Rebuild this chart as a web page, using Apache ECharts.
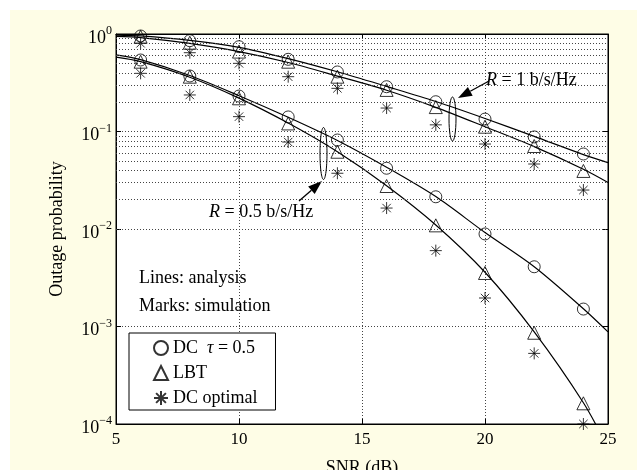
<!DOCTYPE html>
<html>
<head>
<meta charset="utf-8">
<script src="https://cdn.jsdelivr.net/npm/echarts@6/dist/echarts.min.js"></script>
<style>
  body { margin: 0; background: #fff; }
  #wrap { position: relative; width: 637px; height: 470px; background: #fff; }
  #panel { position: absolute; left: 10px; top: 10px; width: 627px; height: 460px; background: #fefde6; }
  #main { position: absolute; left: 0; top: 0; width: 637px; height: 470px; }
</style>
</head>
<body>
<div id="wrap"><div id="panel"></div><div id="main"></div></div>
<script>
// simulation points (marks)
var snr = [6, 8, 10, 12, 14, 16, 18, 20, 22, 24]
var dcTauR1 = [0.954, 0.854, 0.741, 0.55, 0.408, 0.288, 0.202, 0.134, 0.088, 0.0588]
var lbtR1 = [0.938, 0.814, 0.66, 0.52, 0.365, 0.267, 0.178, 0.112, 0.071, 0.0394]
var dcOptR1 = [0.803, 0.643, 0.5, 0.365, 0.277, 0.174, 0.117, 0.0744, 0.0464, 0.0251]
var dcTauR05 = [0.541, 0.371, 0.231, 0.141, 0.0818, 0.042, 0.0214, 0.0089, 0.0041, 0.00151]
var lbtR05 = [0.52, 0.365, 0.219, 0.121, 0.062, 0.0276, 0.0109, 0.00354, 0.000863, 0.000163]
var dcOptR05 = [0.395, 0.237, 0.142, 0.078, 0.0373, 0.0164, 0.006, 0.00196, 0.00053, 0.0001]

// analysis curves (lines)
var lineSnr = [5, 6, 8, 10, 12, 14, 16, 18, 20, 22, 24, 25]
var dcTauR1Line = [0.975, 0.955, 0.86, 0.73, 0.56, 0.41, 0.29, 0.203, 0.136, 0.089, 0.058, 0.048]
var lbtR1Line = [0.945, 0.92, 0.8, 0.66, 0.51, 0.37, 0.265, 0.177, 0.112, 0.07, 0.041, 0.03]
var dcTauR05Line = [0.61, 0.545, 0.375, 0.233, 0.14, 0.081, 0.043, 0.0215, 0.0092, 0.0041, 0.00152, 0.00088]
var lbtR05Line = [0.578, 0.52, 0.36, 0.22, 0.122, 0.062, 0.0278, 0.011, 0.0036, 0.00088, 0.000165, 0.000057]

// minor log grid values
var minorGrid = []
for (var e = -4; e < 0; e++) {
  for (var m = 2; m <= 9; m++) minorGrid.push(m * Math.pow(10, e))
}

var FONT = 'Liberation Serif'
var starPath = 'path://M0,-10L0,10M-10,0L10,0M-7,-7L7,7M-7,7L7,-7'

function pairs(xs, ys) {
  return xs.map(function(x, i) { return [x, ys[i]] })
}

function marks(name, symbol, size, ys) {
  return {
    name: name,
    type: 'scatter',
    symbol: symbol,
    symbolSize: size,
    itemStyle: { color: 'transparent', borderColor: '#000', borderWidth: 1 },
    z: 4,
    data: pairs(snr, ys)
  }
}

function curve(name, ys) {
  return {
    name: name,
    type: 'line',
    showSymbol: false,
    smooth: 0.3,
    clip: true,
    lineStyle: { color: '#000', width: 1.2 },
    z: 3,
    data: pairs(lineSnr, ys)
  }
}

function arrow(tail, tip) {
  var dx = tip[0] - tail[0], dy = tip[1] - tail[1]
  var len = Math.sqrt(dx * dx + dy * dy)
  var ux = dx / len, uy = dy / len
  var bx = tip[0] - 14 * ux, by = tip[1] - 14 * uy
  var px = -uy * 5, py = ux * 5
  return [{
    type: 'line',
    shape: { x1: tail[0], y1: tail[1], x2: bx, y2: by },
    style: { stroke: '#000', lineWidth: 1.3 }
  }, {
    type: 'polygon',
    shape: { points: [tip, [bx + px, by + py], [bx - px, by - py]] },
    style: { fill: '#000' }
  }]
}

var chart = echarts.init(document.getElementById('main'))

var curves = [
  curve('a1', dcTauR1Line),
  curve('a2', lbtR1Line),
  curve('a3', dcTauR05Line),
  curve('a4', lbtR05Line)
]
curves[0].markLine = {
  silent: true,
  symbol: 'none',
  label: { show: false },
  lineStyle: { color: '#444', type: [1, 2], width: 1 },
  data: minorGrid.map(function(v) { return { yAxis: v } })
}

var labelRich = {
  b: { fontFamily: FONT, fontSize: 18, color: '#000', padding: [8, 0, 0, 0] },
  s: { fontFamily: FONT, fontSize: 12, color: '#000', padding: [0, 0, 6, 0] }
}

chart.setOption({
  animation: false,
  backgroundColor: 'transparent',
  textStyle: { fontFamily: FONT },
  grid: {
    left: 116, top: 34, right: 29, bottom: 46,
    outerBoundsMode: 'none',
    containLabel: false,
    show: true, backgroundColor: '#fff', borderColor: '#000', borderWidth: 1
  },
  legend: {
    orient: 'vertical',
    left: 129, top: 333,
    padding: [6, 18, 3, 24],
    itemGap: 7,
    itemWidth: 14, itemHeight: 14,
    backgroundColor: '#fff',
    borderColor: '#000', borderWidth: 1, borderRadius: 0,
    selectedMode: false,
    formatter: function(name) {
      return name === 'DC τ = 0.5' ? 'DC  {i|τ} = 0.5' : name
    },
    textStyle: {
      fontFamily: FONT, fontSize: 18, color: '#000',
      rich: { i: { fontFamily: FONT, fontSize: 18, fontStyle: 'italic', color: '#000' } }
    },
    data: ['DC τ = 0.5', 'LBT', 'DC optimal']
  },
  xAxis: [{
    type: 'value', min: 5, max: 25, interval: 5,
    name: 'SNR (dB)', nameLocation: 'middle', nameGap: 35,
    nameTextStyle: { fontFamily: FONT, fontSize: 18, color: '#000', verticalAlign: 'top' },
    axisLine: { lineStyle: { color: '#000' } },
    axisTick: { inside: true, length: 5, lineStyle: { color: '#000' } },
    axisLabel: { margin: 7, fontFamily: FONT, fontSize: 17, color: '#000' },
    splitLine: { show: true, lineStyle: { color: '#444', type: [1, 2], width: 1 } }
  }, {
    type: 'value', min: 5, max: 25, interval: 5, position: 'top',
    axisLine: { show: true, lineStyle: { color: '#000' } },
    axisTick: { inside: true, length: 5, lineStyle: { color: '#000' } },
    axisLabel: { show: false },
    splitLine: { show: false }
  }],
  yAxis: [{
    type: 'log', logBase: 10, min: 0.0001, max: 1, splitNumber: 4,
    name: 'Outage probability', nameLocation: 'middle', nameGap: 50,
    nameTextStyle: { fontFamily: FONT, fontSize: 18, color: '#000' },
    axisLine: { show: true, lineStyle: { color: '#000' } },
    axisTick: { inside: true, length: 5, lineStyle: { color: '#000' } },
    axisLabel: {
      margin: 4,
      formatter: function(v) {
        var p = Math.round(Math.log10(v))
        return '{b|10}{s|' + (p < 0 ? '\u2212' + (-p) : p) + '}'
      },
      rich: labelRich
    },
    splitLine: { show: true, lineStyle: { color: '#444', type: [1, 2], width: 1 } }
  }, {
    type: 'log', logBase: 10, min: 0.0001, max: 1, splitNumber: 4, position: 'right',
    axisLine: { show: true, lineStyle: { color: '#000' } },
    axisTick: { inside: true, length: 5, lineStyle: { color: '#000' } },
    axisLabel: { show: false },
    splitLine: { show: false }
  }],
  series: curves.concat([
    marks('DC τ = 0.5', 'circle', 12, dcTauR1),
    marks('LBT', 'triangle', 13, lbtR1),
    marks('DC optimal', starPath, 12, dcOptR1),
    marks('DC τ = 0.5', 'circle', 12, dcTauR05),
    marks('LBT', 'triangle', 13, lbtR05),
    marks('DC optimal', starPath, 12, dcOptR05)
  ]),
  graphic: [
    { type: 'ellipse', shape: { cx: 452.5, cy: 119, rx: 3.5, ry: 22 }, style: { fill: 'none', stroke: '#000', lineWidth: 1 }, z: 10 },
    { type: 'ellipse', shape: { cx: 323.5, cy: 153.5, rx: 3.5, ry: 26 }, style: { fill: 'none', stroke: '#000', lineWidth: 1 }, z: 10 },
    { type: 'group', z: 10, children: arrow([489, 81], [458, 98]) },
    { type: 'group', z: 10, children: arrow([299, 201], [322, 181]) },
    {
      type: 'text', left: 486, top: 71, z: 10,
      style: {
        text: '{i|R} = 1 b/s/Hz', fill: '#000', font: '18px ' + FONT,
        rich: { i: { fontStyle: 'italic', fontFamily: FONT, fontSize: 18 } }
      }
    },
    {
      type: 'text', left: 209, top: 203, z: 10,
      style: {
        text: '{i|R} = 0.5 b/s/Hz', fill: '#000', font: '18px ' + FONT,
        rich: { i: { fontStyle: 'italic', fontFamily: FONT, fontSize: 18 } }
      }
    },
    { type: 'text', left: 139, top: 269, z: 10, style: { text: 'Lines: analysis', fill: '#000', font: '18px ' + FONT } },
    { type: 'text', left: 139, top: 297, z: 10, style: { text: 'Marks: simulation', fill: '#000', font: '18px ' + FONT } }
  ]
})
</script>
</body>
</html>
